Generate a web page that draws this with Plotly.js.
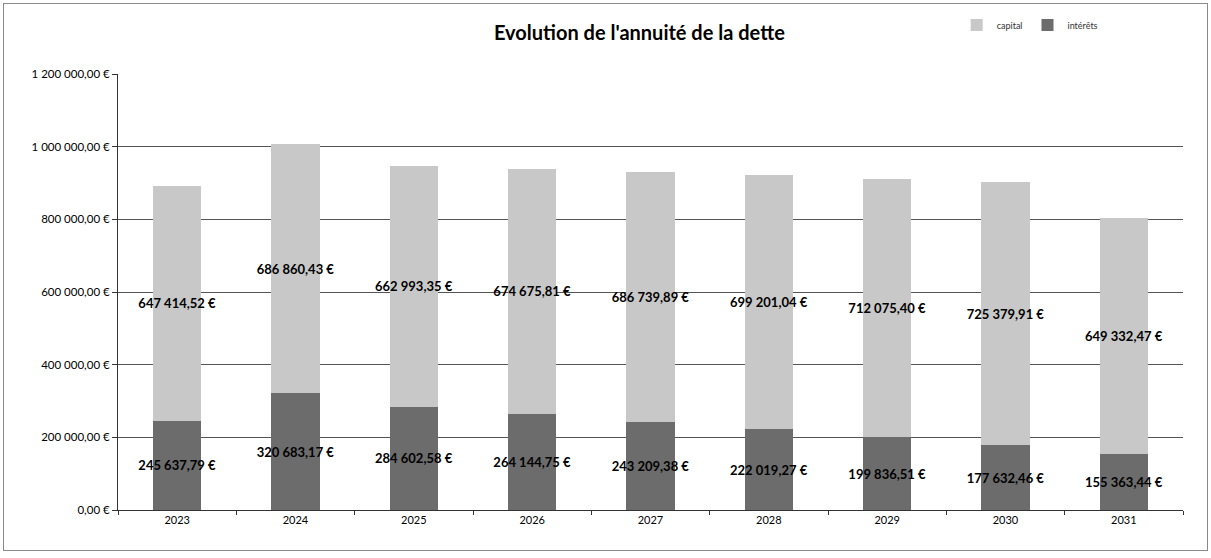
<!DOCTYPE html>
<html>
<head>
<meta charset="utf-8">
<script src="https://cdn.plot.ly/plotly-3.0.1.min.js"></script>
<style>
  html, body { margin: 0; padding: 0; background: #fff; }
  #chart { width: 1211px; height: 558px; }
  #frame { position: absolute; left: 3px; top: 3px; width: 1203px; height: 546px; border: 1px solid #8a8a8a; pointer-events: none; }
</style>
</head>
<body>
<div id="chart"></div>
<div id="frame"></div>
<script>
const years = ['2023', '2024', '2025', '2026', '2027', '2028', '2029', '2030', '2031'];
const interets = [245637.79, 320683.17, 284602.58, 264144.75, 243209.38, 222019.27, 199836.51, 177632.46, 155363.44];
const capital = [647414.52, 686860.43, 662993.35, 674675.81, 686739.89, 699201.04, 712075.40, 725379.91, 649332.47];
const yTickVals = [0, 200000, 400000, 600000, 800000, 1000000, 1200000];

function fmt(v) {
  const parts = v.toFixed(2).split('.');
  const intPart = parts[0].replace(/\B(?=(\d{3})+(?!\d))/g, ' ');
  return intPart + ',' + parts[1] + ' €';
}

const font = 'Lato, "Open Sans", "DejaVu Sans", sans-serif';

const traces = [
  {
    type: 'bar', name: 'intérêts', x: years, y: interets,
    marker: { color: '#6c6c6c' },
    text: interets.map(fmt), textposition: 'inside', insidetextanchor: 'middle', constraintext: 'none', textangle: 0,
    textfont: { family: font, size: 13, color: '#000', weight: 'bold' },
    cliponaxis: false, hoverinfo: 'skip'
  },
  {
    type: 'bar', name: 'capital', x: years, y: capital,
    marker: { color: '#c8c8c8' },
    text: capital.map(fmt), textposition: 'inside', insidetextanchor: 'middle', constraintext: 'none', textangle: 0,
    textfont: { family: font, size: 13, color: '#000', weight: 'bold' },
    cliponaxis: false, hoverinfo: 'skip'
  }
];

const layout = {
  width: 1211, height: 558,
  barmode: 'stack', bargap: 0.59,
  paper_bgcolor: '#fff', plot_bgcolor: '#fff',
  margin: { l: 118, r: 28, t: 74, b: 48 },
  font: { family: font, color: '#000' },
  title: {
    text: "<b>Evolution de l'annuité de la dette</b>",
    font: { family: font, size: 20, color: '#000' },
    xref: 'container', x: 0.528, xanchor: 'center',
    yref: 'container', y: 0.94, yanchor: 'middle'
  },
  showlegend: true,
  legend: {
    orientation: 'h', traceorder: 'reversed',
    xref: 'container', x: 0.79, xanchor: 'left',
    yref: 'container', y: 0.955, yanchor: 'middle',
    font: { family: font, size: 9, color: '#333' },
    itemwidth: 30, bgcolor: 'rgba(0,0,0,0)'
  },
  xaxis: {
    type: 'category',
    showline: true, linecolor: '#333', linewidth: 1,
    ticks: 'outside', tickson: 'boundaries', ticklen: 4, tickcolor: '#333',
    tickfont: { family: font, size: 11, color: '#000' },
    showgrid: false, zeroline: false
  },
  yaxis: {
    range: [0, 1200000], tickmode: 'array', tickvals: yTickVals, ticktext: yTickVals.map(fmt),
    showline: true, linecolor: '#333', linewidth: 1,
    ticks: 'outside', ticklen: 5, tickcolor: '#333',
    tickfont: { family: font, size: 11.5, color: '#000' },
    showgrid: true, gridcolor: '#555', gridwidth: 1,
    zeroline: false
  }
};

Plotly.newPlot('chart', traces, layout, { displayModeBar: false, staticPlot: true });
</script>
</body>
</html>
